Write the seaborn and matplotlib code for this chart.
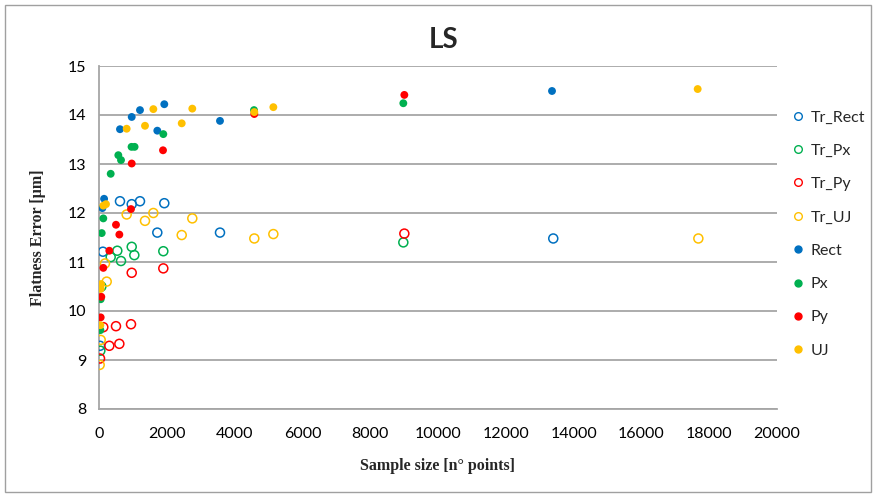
import matplotlib
matplotlib.use("Agg")
import matplotlib.pyplot as plt
import seaborn as sns
import pandas as pd
from matplotlib.patches import Rectangle
from matplotlib.lines import Line2D

# Sample sizes (n° points) and flatness errors (µm) per method
tr_rect_x = [30, 115, 619, 965, 1209, 1720, 1926, 3569, 13400]
tr_rect_y = [9.29, 11.21, 12.24, 12.18, 12.24, 11.60, 12.20, 11.60, 11.48]

tr_px_x = [40, 70, 345, 540, 649, 965, 1042, 1897, 8977]
tr_px_y = [9.19, 10.50, 11.10, 11.23, 11.02, 11.31, 11.14, 11.22, 11.40]

tr_py_x = [30, 127, 304, 501, 600, 944, 965, 1897, 9007]
tr_py_y = [9.03, 9.67, 9.29, 9.69, 9.33, 9.73, 10.78, 10.87, 11.58]

tr_uj_x = [20, 50, 177, 227, 816, 1357, 1603, 2440, 2752, 4581, 5143, 17680]
tr_uj_y = [8.90, 9.41, 10.97, 10.60, 11.97, 11.84, 12.00, 11.55, 11.89, 11.48, 11.57, 11.48]

rect_x = [100, 150, 619, 965, 1209, 1720, 1926, 3569, 13363]
rect_y = [12.10, 12.29, 13.71, 13.96, 14.10, 13.68, 14.22, 13.88, 14.49]

px_x = [40, 50, 80, 127, 345, 570, 649, 960, 1050, 1897, 4572, 8977]
px_y = [9.61, 10.24, 11.59, 11.89, 12.80, 13.18, 13.08, 13.35, 13.35, 13.61, 14.10, 14.24]

py_x = [50, 68, 127, 304, 501, 600, 944, 965, 1888, 4581, 9007]
py_y = [9.87, 10.29, 10.88, 11.23, 11.76, 11.56, 12.08, 13.01, 13.28, 14.02, 14.41]

uj_x = [40, 50, 60, 127, 206, 816, 1357, 1603, 2440, 2752, 4581, 5143, 17660]
uj_y = [9.71, 10.45, 10.55, 12.15, 12.18, 13.72, 13.78, 14.12, 13.83, 14.13, 14.06, 14.16, 14.53]

series = [
    ("Tr_Rect", tr_rect_x, tr_rect_y, "#0070C0", False),
    ("Tr_Px", tr_px_x, tr_px_y, "#00B050", False),
    ("Tr_Py", tr_py_x, tr_py_y, "#FF0000", False),
    ("Tr_UJ", tr_uj_x, tr_uj_y, "#FFC000", False),
    ("Rect", rect_x, rect_y, "#0070C0", True),
    ("Px", px_x, px_y, "#00B050", True),
    ("Py", py_x, py_y, "#FF0000", True),
    ("UJ", uj_x, uj_y, "#FFC000", True),
]

sns.set_theme(style="white")
plt.rcParams["font.family"] = ["Lato", "DejaVu Sans"]

fig = plt.figure(figsize=(8.76, 4.97), dpi=100)
ax = fig.add_axes([99 / 876, 1 - 409 / 497, (777 - 99) / 876, (409 - 66) / 497])

handles = []
for name, xs, ys, color, filled in series:
    df = pd.DataFrame({"x": xs, "y": ys})
    if filled:
        sns.scatterplot(data=df, x="x", y="y", ax=ax, s=32, color=color,
                        edgecolor="none", zorder=3, legend=False)
        h = Line2D([], [], marker="o", linestyle="none", markersize=5,
                   markerfacecolor=color, markeredgecolor=color)
    else:
        sns.scatterplot(data=df, x="x", y="y", ax=ax, s=42, facecolor="none",
                        edgecolor=color, linewidth=1.1, zorder=3, legend=False)
        h = Line2D([], [], marker="o", linestyle="none", markersize=5.5,
                   markerfacecolor="none", markeredgecolor=color,
                   markeredgewidth=1.0)
    handles.append((h, name))

ax.set_xlim(0, 20000)
ax.set_ylim(8, 15)
ax.set_xticks(range(0, 20001, 2000))
ax.set_yticks(range(8, 16))
ax.grid(axis="y", color="#a6a6a6", linewidth=1.3)
ax.grid(axis="x", visible=False)
for side in ("top", "right"):
    ax.spines[side].set_visible(False)
for side in ("left", "bottom"):
    ax.spines[side].set_color("#a6a6a6")
    ax.spines[side].set_linewidth(1.3)
ax.tick_params(axis="both", direction="out", length=5, width=1.3,
               color="#a6a6a6", labelsize=11.5, labelcolor="#000000")
ax.tick_params(axis="x", pad=8)
ax.tick_params(axis="y", pad=4)

serif_bold = dict(family="Liberation Serif", fontweight="bold", fontsize=11.5)
ax.set_xlabel("Sample size [n° points]", labelpad=12, **serif_bold)
ax.set_ylabel("Flatness Error [µm]", labelpad=16, **serif_bold)

fig.text(444 / 876, 1 - 40 / 497, "LS", ha="center", va="center",
         fontsize=20, fontweight="bold")

fig.legend([h for h, _ in handles], [n for _, n in handles],
           loc="center left", bbox_to_anchor=(787 / 876, 1 - 234 / 497),
           frameon=False, fontsize=11.5, labelspacing=1.2,
           handlelength=0.6, handletextpad=0.5, borderaxespad=0)

fig.add_artist(Rectangle((5 / 876, 5 / 497), 866 / 876, 487 / 497,
                         transform=fig.transFigure, fill=False,
                         edgecolor="#a0a0a0", linewidth=1.0))

fig.savefig("out.png", dpi=100)
